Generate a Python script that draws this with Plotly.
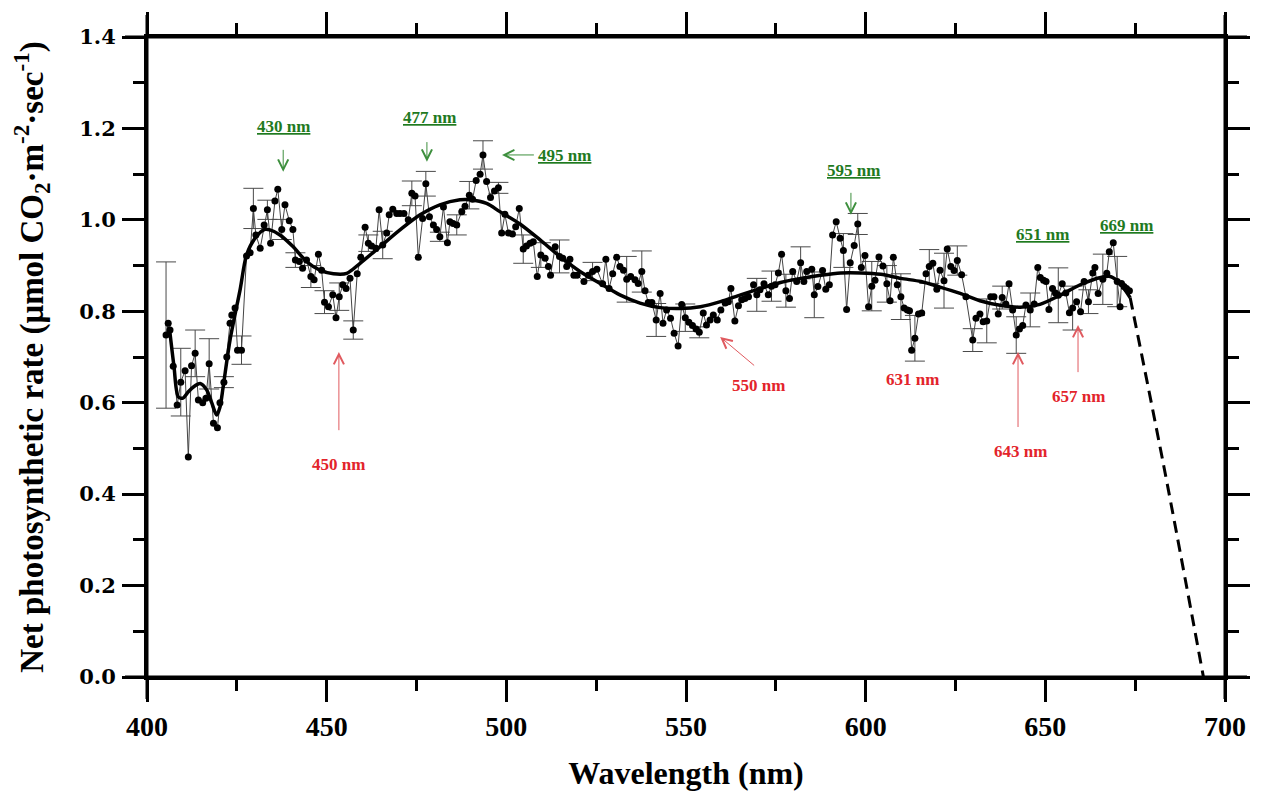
import plotly.graph_objects as go

# measured points (wavelength nm, net photosynthetic rate)
wavelength = [405.3, 405.9, 406.4, 407.3, 408.4, 409.4, 410.6, 411.5, 412.4, 413.4,
              414.3, 415.5, 416.4, 417.3, 418.5, 419.6, 420.3, 421.4, 422.2, 423.1,
              423.6, 424.5, 425.2, 426.3, 427.7, 428.7, 429.6, 430.3, 431.5, 432.6,
              433.5, 434.4, 435.6, 436.4, 437.5, 438.4, 439.6, 440.6, 441.3, 442.4,
              443.3, 444.4, 445.6, 446.5, 447.7, 448.6, 449.4, 450.5, 451.7, 452.6,
              453.5, 454.5, 455.4, 456.5, 457.4, 458.5, 459.5, 460.7, 461.6, 462.5,
              463.7, 464.6, 465.6, 466.7, 467.4, 468.4, 469.5, 470.4, 471.5, 472.7,
              473.7, 474.6, 475.5, 476.7, 477.6, 478.6, 479.7, 480.6, 481.5, 482.5,
              483.6, 484.3, 485.2, 486.2, 487.6, 488.5, 489.7, 490.6, 491.6, 492.7,
              493.5, 494.5, 495.6, 496.7, 497.8, 498.7, 499.6, 500.6, 501.7, 502.6,
              503.6, 504.7, 505.6, 506.6, 507.5, 508.6, 509.6, 510.8, 511.7, 512.3,
              513.6, 514.8, 515.7, 516.8, 517.7, 518.8, 519.7, 521.6, 522.8, 524.0,
              525.2, 526.8, 527.7, 528.6, 529.6, 530.7, 531.6, 532.6, 533.5, 534.6,
              535.8, 536.7, 537.7, 538.6, 539.5, 540.5, 541.7, 542.8, 543.6, 544.6,
              545.7, 546.7, 547.8, 548.8, 549.8, 550.8, 551.8, 552.8, 553.7, 554.8,
              555.7, 556.7, 557.6, 558.7, 559.7, 560.9, 561.8, 562.5, 563.6, 564.6,
              565.5, 566.4, 567.4, 568.8, 569.7, 570.6, 571.7, 572.9, 573.8, 574.8,
              575.7, 576.6, 577.8, 578.8, 579.7, 580.8, 581.9, 582.8, 583.6, 585.0,
              585.7, 586.7, 588.0, 588.9, 589.9, 590.8, 591.8, 592.9, 593.8, 594.7,
              595.7, 596.8, 597.8, 598.8, 599.8, 600.8, 601.7, 602.6, 603.7, 604.8,
              605.9, 606.8, 607.7, 608.8, 609.8, 610.7, 611.6, 612.2, 612.8, 613.7,
              614.7, 615.6, 616.8, 617.7, 618.7, 619.8, 620.7, 621.8, 622.7, 623.7,
              624.6, 625.5, 626.7, 627.9, 629.8, 630.7, 631.8, 632.7, 633.7, 634.8,
              635.7, 636.9, 638.0, 639.0, 639.9, 640.9, 641.9, 642.8, 643.7, 644.6,
              645.8, 646.9, 647.9, 648.6, 649.5, 650.2, 651.0, 652.0, 652.8, 653.6,
              654.7, 655.7, 656.7, 657.6, 658.7, 659.8, 660.8, 662.0, 663.2, 663.8,
              664.7, 666.0, 667.1, 667.8, 668.9, 670.0, 670.8, 671.2, 671.9, 672.6,
              673.4]
rate = [0.748, 0.774, 0.759, 0.680, 0.595, 0.645, 0.670, 0.481, 0.681, 0.708,
        0.606, 0.600, 0.610, 0.685, 0.555, 0.545, 0.600, 0.645, 0.700, 0.774,
        0.792, 0.807, 0.715, 0.715, 0.921, 0.928, 1.025, 0.967, 0.938, 0.989,
        1.022, 0.949, 1.041, 1.067, 0.979, 1.033, 0.998, 0.979, 0.912, 0.909,
        0.894, 0.912, 0.876, 0.869, 0.925, 0.890, 0.820, 0.810, 0.836, 0.786,
        0.832, 0.858, 0.850, 0.872, 0.759, 0.882, 0.918, 0.984, 0.949, 0.943,
        0.938, 1.022, 0.945, 0.971, 1.011, 1.023, 1.014, 1.014, 1.014, 1.000,
        1.058, 1.052, 0.918, 1.003, 1.079, 1.007, 0.989, 0.979, 0.963, 1.028,
        0.950, 0.996, 0.992, 0.989, 1.018, 1.030, 1.054, 1.045, 1.086, 1.100,
        1.142, 1.084, 1.049, 1.063, 1.070, 0.971, 1.012, 0.971, 0.969, 0.985,
        1.025, 0.936, 0.943, 0.949, 0.952, 0.876, 0.923, 0.916, 0.898, 0.879,
        0.941, 0.920, 0.916, 0.898, 0.914, 0.879, 0.879, 0.865, 0.879, 0.887,
        0.892, 0.860, 0.914, 0.850, 0.882, 0.918, 0.898, 0.890, 0.870, 0.876,
        0.869, 0.861, 0.887, 0.845, 0.819, 0.819, 0.781, 0.839, 0.774, 0.803,
        0.785, 0.752, 0.724, 0.815, 0.786, 0.776, 0.769, 0.761, 0.754, 0.796,
        0.770, 0.781, 0.792, 0.781, 0.803, 0.818, 0.821, 0.850, 0.779, 0.812,
        0.825, 0.828, 0.832, 0.858, 0.836, 0.847, 0.860, 0.836, 0.855, 0.858,
        0.884, 0.925, 0.845, 0.828, 0.887, 0.865, 0.906, 0.865, 0.887, 0.892,
        0.836, 0.854, 0.889, 0.848, 0.858, 0.967, 0.996, 0.960, 0.933, 0.804,
        0.906, 0.944, 0.991, 0.896, 0.922, 0.810, 0.855, 0.868, 0.919, 0.899,
        0.860, 0.823, 0.918, 0.858, 0.832, 0.807, 0.803, 0.801, 0.715, 0.741,
        0.794, 0.796, 0.882, 0.898, 0.905, 0.848, 0.890, 0.867, 0.936, 0.898,
        0.889, 0.911, 0.880, 0.832, 0.737, 0.785, 0.794, 0.777, 0.779, 0.832,
        0.832, 0.794, 0.830, 0.816, 0.860, 0.803, 0.748, 0.761, 0.769, 0.814,
        0.803, 0.816, 0.896, 0.874, 0.868, 0.865, 0.804, 0.850, 0.840, 0.835,
        0.860, 0.840, 0.797, 0.807, 0.821, 0.799, 0.865, 0.821, 0.884, 0.896,
        0.839, 0.870, 0.883, 0.930, 0.950, 0.865, 0.810, 0.861, 0.854, 0.850,
        0.845]

# standard deviations on selected points
err_wl = [405.3, 409.4, 413.4, 417.3, 421.4, 426.3, 429.6, 433.5, 437.5, 441.3,
          445.6, 449.4, 453.5, 457.4, 461.6, 465.6, 473.7, 477.6, 481.5, 486.2,
          489.7, 493.5, 497.8, 504.7, 509.6, 514.8, 524.0, 533.5, 537.7, 541.7,
          549.8, 553.7, 569.7, 573.8, 577.8, 581.9, 585.7, 593.8, 597.8, 601.7,
          605.9, 609.8, 613.7, 617.7, 621.8, 625.5, 629.8, 633.7, 638.0, 641.9,
          645.8, 653.6, 657.6, 662.0, 666.0, 670.0]
err_sd = [0.160, 0.074, 0.051, 0.055, 0.012, 0.031, 0.044, 0.021, 0.022, 0.016,
          0.024, 0.025, 0.030, 0.020, 0.018, 0.030, 0.027, 0.027, 0.010, 0.022,
          0.030, 0.031, 0.012, 0.031, 0.027, 0.036, 0.020, 0.050, 0.045, 0.036,
          0.030, 0.012, 0.036, 0.033, 0.036, 0.035, 0.050, 0.037, 0.023, 0.054,
          0.040, 0.050, 0.050, 0.037, 0.060, 0.032, 0.025, 0.048, 0.025, 0.040,
          0.037, 0.060, 0.048, 0.026, 0.055, 0.055]

# smoothed fit curve
fit_wl = [406.2, 407.5, 408.7, 410.0, 411.5, 413.0, 414.8, 416.6, 418.0, 419.4,
          420.3, 421.2, 423.1, 425.9, 427.7, 430.1, 432.8, 434.2, 437.0, 440.7,
          444.4, 448.1, 451.9, 455.6, 459.3, 464.8, 470.4, 476.0, 481.5, 487.1,
          490.0, 494.5, 498.2, 503.8, 509.4, 514.9, 520.5, 526.1, 531.6, 537.2,
          542.8, 548.4, 554.0, 559.6, 565.2, 570.8, 576.3, 581.9, 587.5, 593.1,
          598.7, 604.2, 609.8, 615.4, 620.7, 626.3, 631.8, 637.4, 643.0, 648.5,
          654.1, 659.7, 665.4, 668.1, 670.8, 673.6]
fit_rate = [0.766, 0.680, 0.613, 0.610, 0.624, 0.635, 0.642, 0.628, 0.600, 0.573,
            0.590, 0.635, 0.737, 0.847, 0.923, 0.960, 0.979, 0.978, 0.967, 0.941,
            0.909, 0.890, 0.882, 0.883, 0.905, 0.941, 0.978, 1.011, 1.033, 1.044,
            1.044, 1.036, 1.018, 0.991, 0.956, 0.920, 0.887, 0.861, 0.836, 0.818,
            0.808, 0.806, 0.810, 0.821, 0.836, 0.850, 0.863, 0.872, 0.879, 0.884,
            0.884, 0.881, 0.872, 0.865, 0.853, 0.839, 0.823, 0.813, 0.809, 0.815,
            0.835, 0.858, 0.874, 0.876, 0.861, 0.830]

# extrapolated part (dashed)
ext_wl = [673.6, 683.0, 694.0]
ext_rate = [0.830, 0.460, 0.000]

# annotations: text, label pos, arrow tip, arrow tail
green_labels = [("430 nm", 437.9, 1.205, 437.9, 1.105, 437.9, 1.175),
                ("477 nm", 478.5, 1.225, 477.9, 1.127, 477.9, 1.192),
                ("495 nm", 516.1, 1.140, 498.8, 1.142, 508.5, 1.142),
                ("595 nm", 596.5, 1.109, 595.9, 1.011, 595.9, 1.081),
                ("651 nm", 649.1, 0.967, None, None, None, None),
                ("669 nm", 672.5, 0.987, None, None, None, None)]
red_labels = [("450 nm", 453.4, 0.464, 453.4, 0.711, 453.4, 0.518),
              ("550 nm", 570.1, 0.637, 559.5, 0.744, 569.8, 0.676),
              ("631 nm", 612.9, 0.650, None, None, None, None),
              ("643 nm", 643.2, 0.494, 642.4, 0.711, 642.4, 0.525),
              ("657 nm", 659.1, 0.613, 659.1, 0.770, 659.1, 0.645)]

lookup = dict(zip(wavelength, rate))
err_rate = [lookup[w] for w in err_wl]

fig = go.Figure()

fig.add_trace(go.Scatter(
    x=err_wl, y=err_rate, mode="markers",
    marker=dict(size=1, color="rgba(0,0,0,0)"),
    error_y=dict(type="data", array=err_sd, visible=True,
                 color="#4a4a4a", thickness=1, width=10),
    hoverinfo="skip", showlegend=False))

fig.add_trace(go.Scatter(
    x=wavelength, y=rate, mode="lines+markers",
    line=dict(color="#444444", width=1),
    marker=dict(size=7, color="black"),
    showlegend=False))

fig.add_trace(go.Scatter(
    x=fit_wl, y=fit_rate, mode="lines",
    line=dict(color="black", width=3.5, shape="spline", smoothing=0.8),
    showlegend=False))

fig.add_trace(go.Scatter(
    x=ext_wl, y=ext_rate, mode="lines",
    line=dict(color="black", width=3, dash="12px,7px", shape="spline"),
    showlegend=False))

label_font = "Liberation Serif"


def add_labels(items, color, arrow_color, underline):
    for text, lx, ly, tx, ty, ax, ay in items:
        t = "<b><u>%s</u></b>" % text if underline else "<b>%s</b>" % text
        fig.add_annotation(x=lx, y=ly, text=t, showarrow=False,
                           font=dict(family=label_font, size=17, color=color))
        if tx is not None:
            fig.add_annotation(x=tx, y=ty, ax=ax, ay=ay, axref="x", ayref="y",
                               text=" ", showarrow=True, arrowhead=5,
                               arrowsize=2, arrowwidth=1, arrowcolor=arrow_color)


add_labels(green_labels, "#1f7a1f", "#3d8f3d", True)
add_labels(red_labels, "#e3242b", "#e05a5f", False)

# frame lines extending past the corners
ex, ey = 22 / 1078, 22 / 640
for x0, y0, x1, y1 in [(-ex, 0, 1 + ex, 0), (-ex, 1, 1 + ex, 1),
                       (0, -ey, 0, 1 + ey), (1, -ey, 1, 1 + ey)]:
    fig.add_shape(type="line", xref="paper", yref="paper",
                  x0=x0, y0=y0, x1=x1, y1=y1,
                  line=dict(color="black", width=3))

fig.update_xaxes(
    range=[400, 700], dtick=50, tick0=400, automargin=False,
    showgrid=False, zeroline=False,
    showline=True, linecolor="black", linewidth=3, mirror="allticks",
    ticks="outside", ticklen=22, tickwidth=2.5, tickcolor="black",
    minor=dict(ticks="outside", dtick=25, ticklen=11, tickwidth=2.5, tickcolor="black"),
    tickfont=dict(family="Liberation Serif", size=28, color="black", weight="bold"),
    ticklabelstandoff=0,
    title=dict(text="<b>Wavelength (nm)</b>", standoff=22,
               font=dict(family="Liberation Serif", size=32, color="black")))

fig.update_yaxes(
    range=[0, 1.4], dtick=0.2, tick0=0, tickformat=".1f", automargin=False,
    showgrid=False, zeroline=False,
    showline=True, linecolor="black", linewidth=3, mirror="allticks",
    ticks="outside", ticklen=22, tickwidth=2.5, tickcolor="black",
    minor=dict(ticks="outside", dtick=0.1, ticklen=11, tickwidth=2.5, tickcolor="black"),
    tickfont=dict(family="DejaVu Serif", size=21, color="black", weight="bold"),
    ticklabelstandoff=2,
    title=dict(text="<b>Net photosynthetic rate (μmol CO<sub>2</sub>·m<sup>-2</sup>·sec<sup>-1</sup>)</b>",
               standoff=32,
               font=dict(family="Liberation Serif", size=33, color="black")))

# the page body adds an 8 px offset, so margins are shifted to compensate
fig.update_layout(
    width=1263, height=791,
    margin=dict(l=139, r=46, t=29, b=122),
    paper_bgcolor="white", plot_bgcolor="white",
    showlegend=False)

fig.write_html("out.html")
